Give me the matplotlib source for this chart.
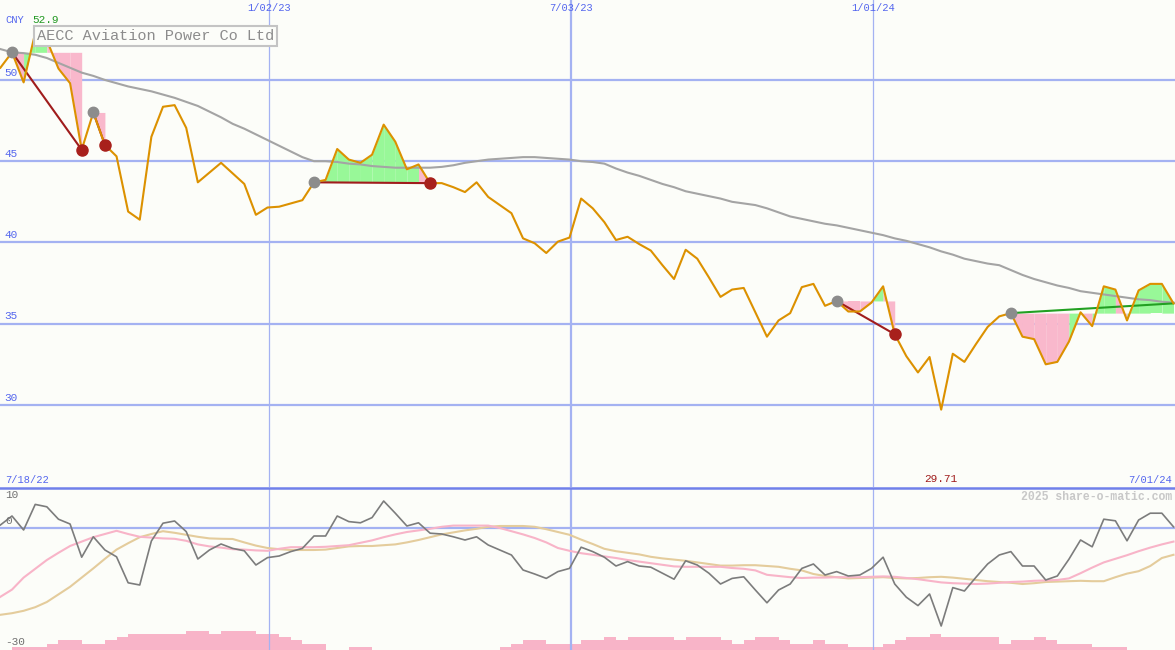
import matplotlib
matplotlib.use("Agg")
import matplotlib.pyplot as plt
import pandas as pd
from matplotlib.lines import Line2D

# weekly data, one point per week
weeks = pd.date_range("2022-07-24", periods=102, freq="7D")

price = [50.75, 51.7, 49.85, 52.9, 52.45, 50.7, 49.8, 45.7, 48.0, 46.0,
         45.3, 41.9, 41.4, 46.5, 48.35, 48.45, 47.05, 43.7, 44.3, 44.9,
         44.25, 43.6, 41.7, 42.15, 42.2, 42.4, 42.6, 43.7, 43.85, 45.75,
         45.1, 44.9, 45.4, 47.25, 46.2, 44.5, 44.8, 43.65, 43.65, 43.4,
         43.1, 43.7, 42.8, 42.3, 41.8, 40.25, 39.95, 39.35, 40.05, 40.3,
         42.7, 42.1, 41.25, 40.15, 40.35, 39.9, 39.5, 38.6, 37.75, 39.55,
         39.0, 37.85, 36.65, 37.1, 37.2, 35.7, 34.2, 35.2, 35.65, 37.25,
         37.45, 36.1, 36.4, 35.75, 35.75, 36.3, 37.3, 34.35, 33.0, 32.0,
         32.95, 29.71, 33.15, 32.65, 33.75, 34.8, 35.45, 35.65, 34.2, 34.05,
         32.5, 32.65, 33.9, 35.7, 34.85, 37.3, 37.1, 35.2, 37.05, 37.45,
         37.45, 36.25]

ma = [51.9, 51.7, 51.65, 51.55, 51.35, 51.05, 50.75, 50.45, 50.25, 50.0,
      49.8, 49.6, 49.45, 49.3, 49.1, 48.9, 48.65, 48.4, 48.05, 47.7,
      47.3, 47.0, 46.65, 46.3, 45.95, 45.6, 45.25, 45.0, 45.0, 44.95,
      44.85, 44.8, 44.7, 44.65, 44.6, 44.6, 44.6, 44.6, 44.65, 44.75,
      44.9, 45.0, 45.1, 45.15, 45.2, 45.25, 45.25, 45.2, 45.15, 45.1,
      45.0, 44.95, 44.85, 44.55, 44.3, 44.1, 43.85, 43.6, 43.4, 43.15,
      43.0, 42.85, 42.7, 42.5, 42.4, 42.3, 42.1, 41.85, 41.6, 41.45,
      41.3, 41.15, 41.05, 40.9, 40.75, 40.6, 40.45, 40.25, 40.1, 39.9,
      39.7, 39.45, 39.25, 39.0, 38.85, 38.7, 38.6, 38.3, 38.0, 37.75,
      37.55, 37.35, 37.2, 37.0, 36.9, 36.8, 36.7, 36.6, 36.5, 36.45,
      36.35, 36.3]

osc = [0.75, 3.0, -0.5, 5.9, 5.3, 2.2, 1.0, -7.3, -2.2, -5.5,
       -7.2, -13.7, -14.25, -3.25, 1.2, 1.75, -0.9, -7.75, -5.5, -4.0,
       -5.1, -5.7, -9.25, -7.4, -7.0, -5.9, -5.1, -2.0, -2.0, 3.0,
       1.6, 1.3, 2.6, 6.75, 3.7, 0.5, 1.3, -1.3, -1.5, -2.2,
       -3.0, -2.2, -4.25, -5.5, -6.75, -10.5, -11.5, -12.6, -10.9, -10.1,
       -4.8, -5.9, -7.3, -9.5, -8.4, -9.5, -9.8, -11.3, -12.8, -8.2,
       -9.25, -11.3, -14.0, -12.6, -12.2, -15.5, -18.7, -15.5, -14.0, -10.1,
       -9.0, -11.75, -10.9, -12.0, -11.75, -10.1, -7.3, -14.0, -17.3, -19.4,
       -16.5, -24.5, -14.9, -15.75, -12.3, -9.0, -6.75, -5.9, -9.5, -9.5,
       -13.0, -12.0, -7.8, -3.0, -4.7, 2.2, 1.8, -3.2, 2.0, 3.7,
       3.7, 0.3]

osc_fast = [-17.2, -15.4, -12.4, -10.2, -8.0, -6.2, -4.5, -3.4, -2.3, -1.5,
            -0.7, -1.5, -2.2, -2.4, -2.6, -2.7, -3.2, -4.1, -4.6, -4.9,
            -5.3, -5.4, -5.6, -5.7, -5.2, -4.8, -4.8, -4.8, -4.7, -4.5,
            -4.3, -3.7, -3.1, -2.3, -1.6, -1.0, -0.6, -0.2, 0.3, 0.6,
            0.6, 0.6, 0.6, 0.0, -0.8, -1.6, -2.5, -3.6, -5.0, -5.7,
            -6.3, -6.7, -7.1, -7.5, -8.0, -8.4, -8.8, -9.2, -9.6, -9.7,
            -9.7, -9.7, -9.7, -10.0, -10.2, -10.6, -11.7, -12.0, -12.3, -12.5,
            -12.4, -12.4, -12.3, -12.3, -12.3, -12.2, -12.1, -12.2, -12.5, -12.8,
            -13.2, -13.6, -13.8, -13.9, -14.0, -13.9, -13.7, -13.5, -13.4, -13.2,
            -13.1, -13.0, -12.6, -11.3, -9.9, -8.6, -7.7, -6.8, -5.8, -4.9,
            -4.1, -3.4]

osc_slow = [-21.7, -21.3, -20.7, -19.8, -18.5, -16.6, -14.7, -12.4, -10.1, -7.7,
            -5.4, -3.8, -2.3, -1.5, -0.8, -1.2, -1.7, -2.2, -2.6, -2.7,
            -2.75, -3.6, -4.4, -5.0, -5.3, -5.5, -5.5, -5.5, -5.4, -5.0,
            -4.6, -4.5, -4.5, -4.3, -4.1, -3.6, -3.0, -2.3, -1.6, -1.1,
            -0.6, -0.2, 0.3, 0.5, 0.5, 0.5, 0.3, -0.3, -1.0, -1.7,
            -2.9, -4.0, -5.2, -5.8, -6.2, -6.6, -7.2, -7.6, -7.9, -8.2,
            -8.6, -9.0, -9.4, -9.4, -9.3, -9.3, -9.5, -9.7, -10.2, -10.6,
            -11.5, -12.0, -12.3, -12.6, -12.5, -12.4, -12.3, -12.5, -12.6, -12.5,
            -12.3, -12.2, -12.4, -12.7, -13.0, -13.3, -13.5, -13.7, -14.0, -13.8,
            -13.5, -13.4, -13.3, -13.2, -13.3, -13.3, -12.3, -11.4, -10.8, -9.5,
            -7.5, -6.7]

vol = [0, 1, 1, 1, 2, 3, 3, 2, 2, 3,
       4, 5, 5, 5, 5, 5, 6, 6, 5, 6,
       6, 6, 5, 5, 4, 3, 2, 2, 0, 0,
       1, 1, 0, 0, 0, 0, 0, 0, 0, 0,
       0, 0, 0, 1, 2, 3, 3, 2, 2, 2,
       3, 3, 4, 3, 4, 4, 4, 4, 3, 4,
       4, 4, 3, 2, 3, 4, 4, 3, 2, 2,
       3, 2, 2, 1, 1, 1, 2, 3, 4, 4,
       5, 4, 4, 4, 4, 4, 2, 3, 3, 4,
       3, 2, 2, 2, 1, 1, 1, 0, 0, 0,
       0, 0]

# trend segments: index of start / end week, last one still open
trend_start = [1, 8, 27, 72, 87]
trend_end = [7, 9, 37, 77, 101]
trend_open = [False, False, False, False, True]

price_ticks = [50, 45, 40, 35, 30]
grid_dates = ["2023-01-02", "2023-07-03", "2024-01-01"]
grid_labels = ["1/02/23", "7/03/23", "1/01/24"]
range_labels = ["7/18/22", "7/01/24"]
osc_ticks = [10, 0, -30]

BG = "#fcfdf9"
GRID = "#a4b2f2"
BLUE = "#5466ee"
MONO = "Liberation Mono"

W, H = 1175, 650


def px(x, y):
    """pixel position -> figure fraction"""
    return x / W, 1 - y / H


fig = plt.figure(figsize=(W / 100, H / 100), dpi=100, facecolor=BG)
ax = fig.add_axes([0, 163 / H, 1, 487 / H], facecolor=BG)
ax2 = fig.add_axes([0, 0, 1, 162 / H], facecolor=BG)
ax3 = ax2.twinx()

left = weeks[0] - pd.Timedelta(hours=5.5)
right = weeks[-1] + pd.Timedelta(hours=22)
for a in (ax, ax2, ax3):
    a.set_xlim(left, right)
    a.set_xticks([])
    a.set_yticks([])
    for s in a.spines.values():
        s.set_visible(False)
ax.set_ylim(24.95, 54.92)
ax2.set_ylim(-30.5, 10)
ax3.set_ylim(0, 51)

# grid
for v in price_ticks:
    ax.axhline(v, color=GRID, lw=1.6, zorder=1)
    ax.text(0.004, v + 0.15, str(v), transform=ax.get_yaxis_transform(),
            color=BLUE, fontsize=8, family=MONO, va="bottom", ha="left")
ax2.axhline(0, color=GRID, lw=1.6, zorder=1)
for d, lab in zip(grid_dates, grid_labels):
    t = pd.Timestamp(d)
    lw = 1.6 if lab == "7/03/23" else 0.9
    ax.axvline(t, color=GRID, lw=lw, zorder=1)
    ax2.axvline(t, color=GRID, lw=lw, zorder=1)
    ax.text(t, 0.984, lab, transform=ax.get_xaxis_transform(), color=BLUE,
            fontsize=7.5, family=MONO, ha="center", va="center")

# volume bars
ax3.bar(weeks, vol, width=7, align="edge", color="#f8b4c8", lw=0, zorder=1)
ax2.set_zorder(ax3.get_zorder() + 1)
ax2.patch.set_visible(False)

# trend fills
for s, e in zip(trend_start, trend_end):
    base = price[s]
    for i in range(s, e):
        col = "#98f898" if price[i + 1] > base else "#f9b8cc"
        ax.fill_between(weeks[i:i + 2], base, price[i:i + 2], color=col,
                        lw=0, zorder=2)

ax.plot(weeks, ma, color="#a4a4a4", lw=1.5, zorder=3)

for s, e, op in zip(trend_start, trend_end, trend_open):
    col = "#22a022" if op else "#a01c1c"
    ax.plot([weeks[s], weeks[e]], [price[s], price[e]], color=col, lw=1.5,
            zorder=4)

ax.plot(weeks, price, color="#dc9100", lw=1.5, zorder=5)

for s, e, op in zip(trend_start, trend_end, trend_open):
    ax.plot(weeks[s], price[s], "o", color="#8c8c8c", ms=7.5, zorder=6)
    if not op:
        ax.plot(weeks[e], price[e], "o", color="#a8201c", ms=8, zorder=6)

# oscillator panel
ax2.plot(weeks, osc_slow, color="#e4cc9c", lw=1.5, zorder=3)
ax2.plot(weeks, osc_fast, color="#f8b4c8", lw=1.5, zorder=3)
ax2.plot(weeks, osc, color="#7c7c7c", lw=1.2, zorder=4)
for v, y in zip(osc_ticks, [495, 521, 642]):
    fig.text(*px(5, y), str(v), color="#707070", fontsize=8, family=MONO,
             va="center", ha="left")

# separator
fig.add_artist(Line2D([0, 1], [1 - 487.5 / H] * 2, color="#7080ea", lw=1.8))

# labels
lo = min(price)
lo_i = price.index(lo)
fig.text(*px(5, 480), range_labels[0], color=BLUE, fontsize=7.5,
         family=MONO, va="center", ha="left")
fig.text(*px(1172, 480), range_labels[1], color=BLUE, fontsize=7.5,
         family=MONO, va="center", ha="right")
ax.text(weeks[lo_i], 0.0155, "%.2f" % lo, transform=ax.get_xaxis_transform(),
        color="#a01c1c", fontsize=8, family=MONO, ha="center", va="center")
fig.text(*px(5, 20), "CNY", color=BLUE, fontsize=7.5, family=MONO,
         va="center", ha="left")
fig.text(*px(32, 20), "%.1f" % max(price), color="#229922", fontsize=8,
         family=MONO, va="center", ha="left")
fig.text(*px(37, 36), "AECC Aviation Power Co Ltd", color="#8c8c8c",
         fontsize=11, family=MONO, va="center", ha="left",
         bbox=dict(boxstyle="square,pad=0.2", fc=BG, ec="#c4c4c4", lw=1.5))
fig.text(*px(1172, 497), "2025 share-o-matic.com", color="#c8c8c8",
         fontsize=8.3, family=MONO, fontweight="bold", va="center", ha="right")

fig.savefig("out.png", dpi=100, facecolor=BG)
